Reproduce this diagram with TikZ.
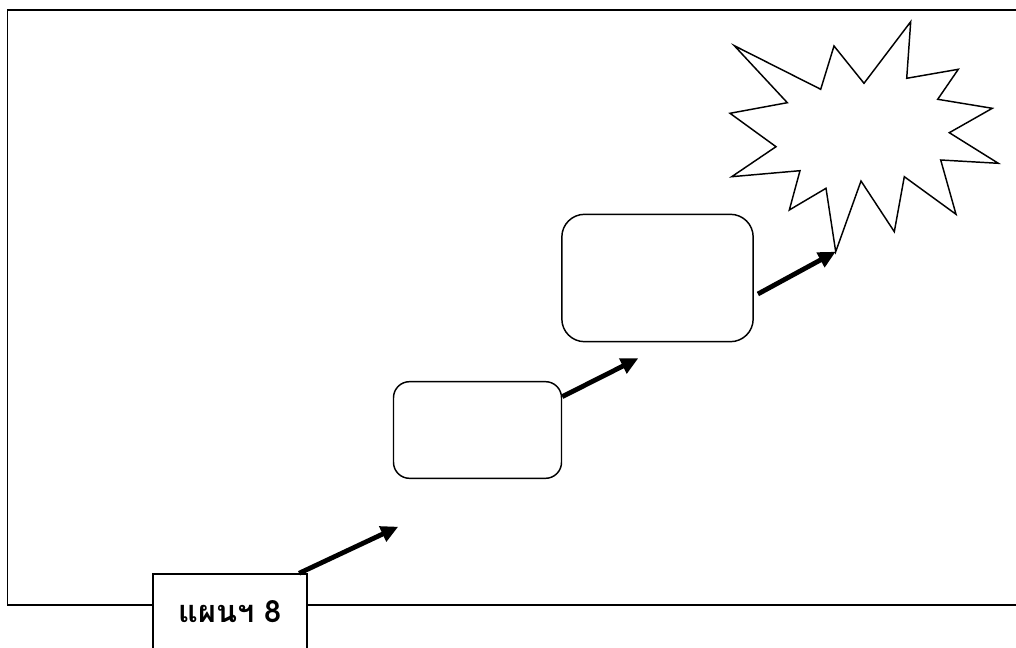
\documentclass[tikz,border=0pt]{standalone}
\usepackage{fontspec}
\newfontfamily\thaifont[Script=Thai]{Loma}
\usetikzlibrary{arrows.meta,positioning}

\tikzset{
	frame/.style = {line width = 1.1pt},
	stage/.style = {draw, line width = 1.1pt, inner sep = 0pt},
	go/.style = {-{Triangle[length = 13pt, width = 12pt]}, line width = 3.6pt},
}

\begin{document}
\begin{tikzpicture}[x = 0.75pt, y = -0.75pt]
	\useasboundingbox (0,0) rectangle (1016,648);
	\draw[frame] (1030,10) -- (7.5,10) -- (7.5,605) -- (1030,605);
	\node[stage, fill = white, minimum width = 115.5pt, minimum height = 57pt, font = \thaifont\bfseries\fontsize{23}{27}\selectfont] (lbl) at (230,612) {แผนฯ 8};
	\node[stage, rounded corners = 12pt, minimum width = 126pt, minimum height = 72.5pt] (S1) at (477.5,430) {};
	\node[stage, rounded corners = 17pt, minimum width = 143.5pt, minimum height = 95.5pt] (S2) at (657.5,278) {};
	\draw[frame] (734.3,45.7) -- (820.7,89.3) -- (834,46) -- (864,83.3) -- (910.7,21.7) -- (906.7,78.3) -- (958.3,69.3) -- (937.7,99.3) -- (992.3,108.3) -- (949.3,132.7) -- (998.3,163.3) -- (940.7,160) -- (956,214.3) -- (904.3,176.7) -- (894.3,231.7) -- (861,181) -- (835.7,251.7) coordinate (BANG) -- (826,188.3) -- (789.3,210) -- (800,170.7) -- (731.7,176.7) -- (776,146.7) -- (730,113.3) -- (787.3,102.7) -- cycle;
	\coordinate (T1) at (398.3,526.7);
	\coordinate (T2) at (638.3,358.3);
	\draw[go] ([xshift = -6.5pt]lbl.north east) -- (T1);
	\draw[go] ([yshift = 25pt]S1.east) -- (T2);
	\draw[go] ([xshift = 3pt, yshift = -12pt]S2.east) -- (BANG);
\end{tikzpicture}
\end{document}
